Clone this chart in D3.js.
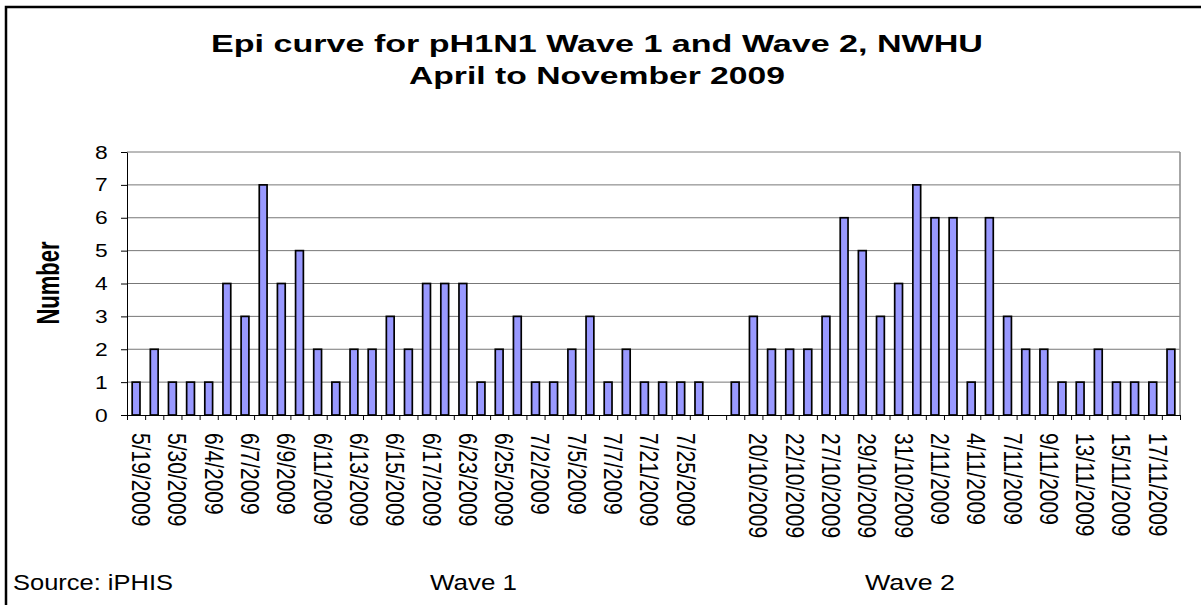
<!DOCTYPE html>
<html lang="en">
<head>
<meta charset="utf-8">
<title>Epi curve</title>
<script src="https://d3js.org/d3.v7.min.js"></script>
<style>
  body { margin: 0; background: #fff; }
  svg { display: block; font-family: "Liberation Sans", Arial, sans-serif; }
</style>
</head>
<body>
<svg id="chart" width="1201" height="605"></svg>
<script>
// cases per day
var wave1Values = [1,2,1,1,1,4,3,7,4,5,2,1,2,2,3,2,4,4,4,1,2,3,1,1,2,3,1,2,1,1,1,1]
var wave2Values = [1,3,2,2,2,3,6,5,3,4,7,6,6,1,6,3,2,2,1,1,2,1,1,1,2]

// only every second date is printed on the axis
var wave1Ticks = ["5/19/2009","5/30/2009","6/4/2009","6/7/2009","6/9/2009","6/11/2009",
                  "6/13/2009","6/15/2009","6/17/2009","6/23/2009","6/25/2009","7/2/2009",
                  "7/5/2009","7/7/2009","7/21/2009","7/25/2009"]
var wave2Ticks = ["20/10/2009","22/10/2009","27/10/2009","29/10/2009","31/10/2009","2/11/2009",
                  "4/11/2009","7/11/2009","9/11/2009","13/11/2009","15/11/2009","17/11/2009"]

var yTicks = [0,1,2,3,4,5,6,7,8]
var titleLines = ["Epi curve for pH1N1 Wave 1 and Wave 2, NWHU", "April to November 2009"]

// one row per category, blank category between the two waves
var rows = []
wave1Values.forEach((v,i) => rows.push({v: v, label: i % 2 == 0 ? wave1Ticks[i/2] : ""}))
rows.push({v: null, label: ""})
wave2Values.forEach((v,i) => rows.push({v: v, label: i % 2 == 1 ? wave2Ticks[(i-1)/2] : ""}))

var plot = {left: 127, right: 1180, top: 152, bottom: 415}
var sx = 1.2   // text in the picture is a bit wider than it is tall

var svg = d3.select("#chart")

// outer frame (right and bottom edges fall outside the picture)
svg.append("rect")
  .attr("x", 6).attr("y", 7)
  .attr("width", 1230).attr("height", 630)
  .attr("fill", "none").attr("stroke", "#000").attr("stroke-width", 2.5)

var x = d3.scaleBand()
  .domain(d3.range(rows.length))
  .range([plot.left, plot.right])
  .paddingInner(0.57)
  .paddingOuter(0.285)

var xEdge = d3.scaleLinear()
  .domain([0, rows.length])
  .range([plot.left, plot.right])

var y = d3.scaleLinear()
  .domain([0, 8])
  .range([plot.bottom, plot.top])

// gridlines
svg.append("g")
  .selectAll("line")
  .data(yTicks.slice(1))
  .join("line")
    .attr("x1", plot.left).attr("x2", plot.right)
    .attr("y1", d => y(d)).attr("y2", d => y(d))
    .attr("stroke", "#777").attr("stroke-width", 1)

// right edge of plot area
svg.append("line")
  .attr("x1", plot.right).attr("x2", plot.right)
  .attr("y1", y(0)).attr("y2", y(8))
  .attr("stroke", "#888").attr("stroke-width", 1.5)

// bars
svg.append("g")
  .selectAll("rect")
  .data(rows.map((d,i) => ({i: i, v: d.v})).filter(d => d.v != null))
  .join("rect")
    .attr("x", d => x(d.i))
    .attr("y", d => y(d.v))
    .attr("width", x.bandwidth())
    .attr("height", d => y(0) - y(d.v))
    .attr("fill", "#9999ff")
    .attr("stroke", "#000")
    .attr("stroke-width", 1.7)

// y axis
var yAxis = svg.append("g")
  .attr("transform", "translate(" + plot.left + ",0)")
  .call(d3.axisLeft(y).tickValues(yTicks).tickSize(6).tickSizeOuter(0).tickPadding(10))
yAxis.select(".domain").attr("stroke", "#000")
yAxis.selectAll(".tick line").attr("stroke", "#000")
yAxis.selectAll(".tick text")
  .attr("font-size", 19)
  .attr("font-family", "'Liberation Sans', Arial, sans-serif")
  .attr("fill", "#000")
  .attr("transform", "scale(" + sx + ",1)")

// x axis, ticks sit between the categories
var xAxis = svg.append("g")
  .attr("transform", "translate(0," + plot.bottom + ")")
  .call(d3.axisBottom(xEdge).tickValues(d3.range(rows.length + 1)).tickSize(5).tickSizeOuter(0).tickFormat(""))
xAxis.select(".domain").attr("stroke", "#000").attr("stroke-width", 1.2)
xAxis.selectAll(".tick line").attr("stroke", "#000")

// date labels, written top to bottom
svg.append("g")
  .selectAll("text")
  .data(rows.map((d,i) => ({i: i, label: d.label})).filter(d => d.label != ""))
  .join("text")
    .attr("transform", d => "translate(" + (x(d.i) + x.bandwidth()/2 - 4) + ",433) scale(" + sx + ",1) rotate(90)")
    .attr("text-anchor", "start")
    .attr("font-size", 21)
    .attr("fill", "#000")
    .text(d => d.label)

// y axis title
svg.append("text")
  .attr("transform", "translate(48,283) scale(1.45,1) rotate(-90)")
  .attr("text-anchor", "middle")
  .attr("dy", "0.35em")
  .attr("font-size", 22)
  .attr("font-weight", "bold")
  .text("Number")

// title
svg.append("g")
  .selectAll("text")
  .data(titleLines)
  .join("text")
    .attr("x", 597)
    .attr("y", (d,i) => i == 0 ? 52 : 84)
    .attr("text-anchor", "middle")
    .attr("font-size", 24)
    .attr("font-weight", "bold")
    .attr("textLength", (d,i) => i == 0 ? 772 : 376)
    .attr("lengthAdjust", "spacingAndGlyphs")
    .text(d => d)

// footer
var footer = [
  {text: "Source: iPHIS", x: 13, w: 160},
  {text: "Wave 1", x: 430, w: 87},
  {text: "Wave 2", x: 865, w: 90}
]
svg.append("g")
  .selectAll("text")
  .data(footer)
  .join("text")
    .attr("x", d => d.x)
    .attr("y", 590)
    .attr("font-size", 21.5)
    .attr("textLength", d => d.w)
    .attr("lengthAdjust", "spacingAndGlyphs")
    .text(d => d.text)
</script>
</body>
</html>
